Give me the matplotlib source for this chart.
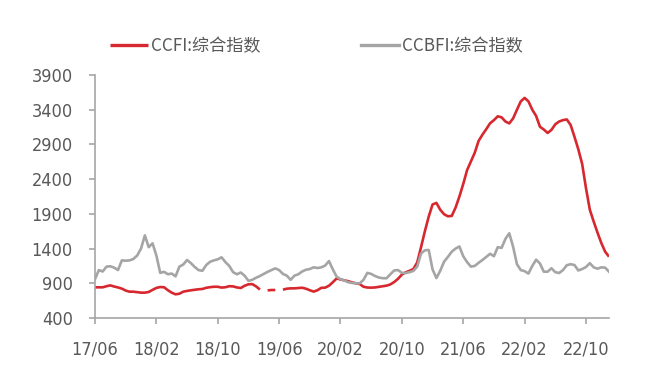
import numpy as np
import matplotlib
matplotlib.use("Agg")
from matplotlib import pyplot as plt

# semi-monthly observations, 2017/06 .. 2023/01
ccfi = [842, 842, 842, 858, 870, 853, 840, 823, 795, 779,
        779, 772, 765, 765, 775, 805, 833, 846, 843, 800,
        765, 741, 750, 779, 790, 799, 806, 814, 818, 835,
        844, 850, 850, 838, 843, 858, 855, 840, 832, 864,
        885, 888, 855, 810, np.nan, 798, 803, 803, np.nan, 808,
        822, 827, 827, 832, 836, 822, 800, 780, 800, 835,
        837, 865, 915, 970, 955, 943, 930, 913, 900, 890,
        850, 839, 837, 840, 849, 857, 866, 884, 918, 965,
        1025, 1058, 1080, 1105, 1200, 1420, 1650, 1860, 2035, 2058,
        1960, 1895, 1865, 1870, 1990, 2150, 2330, 2530, 2655, 2780,
        2950, 3040, 3120, 3205, 3250, 3305, 3290, 3230, 3203, 3275,
        3400, 3520, 3570, 3520, 3400, 3310, 3155, 3115, 3065, 3110,
        3190, 3230, 3250, 3260, 3180, 3010, 2830, 2620, 2270, 1960,
        1790, 1630, 1480, 1355, 1283]
ccbfi = [960, 1090, 1070, 1140, 1145, 1125, 1091, 1230, 1225, 1230,
         1250, 1300, 1400, 1590, 1420, 1476, 1300, 1050, 1065, 1030,
         1040, 1000, 1140, 1170, 1235, 1190, 1135, 1090, 1080, 1163,
         1210, 1230, 1245, 1274, 1205, 1150, 1060, 1030, 1055, 1010,
         935, 950, 980, 1005, 1035, 1065, 1090, 1115, 1090, 1035,
         1010, 950, 1010, 1030, 1070, 1095, 1105, 1130, 1120, 1130,
         1155, 1220, 1100, 995, 960, 940, 915, 905, 899, 899,
         950, 1050, 1035, 1005, 983, 973, 972, 1030, 1085, 1090,
         1050, 1048, 1060, 1078, 1140, 1330, 1375, 1380, 1100, 975,
         1080, 1211, 1280, 1355, 1400, 1430, 1290, 1205, 1140, 1150,
         1195, 1235, 1280, 1325, 1290, 1420, 1410, 1540, 1620, 1427,
         1175, 1090, 1075, 1040, 1150, 1240, 1185, 1067, 1067, 1116,
         1060, 1048, 1090, 1160, 1175, 1163, 1085, 1105, 1135, 1190,
         1130, 1110, 1130, 1125, 1067]
xtick_labels = ['17/06', '18/02', '18/10', '19/06', '20/02',
                '20/10', '21/06', '22/02', '22/10']
yticks = [400, 900, 1400, 1900, 2400, 2900, 3400, 3900]

RED = '#D7282F'
GREY = '#A5A5A5'
TXT = '#595959'
AXC = '#A6A6A6'

fig = plt.figure(figsize=(6.46, 3.80), dpi=100)
ax = fig.add_axes([95 / 646, 1 - 318 / 380, (609 - 95) / 646, (318 - 75) / 380])

x = np.arange(len(ccfi))
l1, = ax.plot(x, ccfi, color=RED, lw=1.9, solid_capstyle='butt', label='CCFI:综合指数')
l2, = ax.plot(x, ccbfi, color=GREY, lw=1.9, label='CCBFI:综合指数')

ax.set_xlim(0, len(ccfi) - 1)
ax.set_ylim(400, 3900)
ax.set_yticks(yticks)
ax.set_xticks(np.arange(len(xtick_labels)) * 16)
ax.set_xticklabels(xtick_labels)

for s in ['top', 'right']:
    ax.spines[s].set_visible(False)
for s in ['left', 'bottom']:
    ax.spines[s].set_color(AXC)
    ax.spines[s].set_linewidth(1.2)
ax.tick_params(direction='out', length=4, width=1.2, color=AXC, labelcolor=TXT,
               labelsize=13, pad=12)
for lbl in ax.get_xticklabels() + ax.get_yticklabels():
    lbl.set_family('DejaVu Sans')
    lbl.set_fontstretch('condensed')

leg = fig.legend(handles=[l1, l2], loc='center left', bbox_to_anchor=(110 / 646, 1 - 45.7 / 380),
                 ncol=2, frameon=False, borderpad=0, borderaxespad=0,
                 handlelength=2.2, handletextpad=0.2, columnspacing=5.9,
                 prop={'family': ['Noto Sans CJK SC', 'DejaVu Sans'], 'size': 12.3})
for t in leg.get_texts():
    t.set_color(TXT)
for h in leg.legend_handles:
    h.set_linewidth(2.4)

fig.savefig('out.png', dpi=100)
